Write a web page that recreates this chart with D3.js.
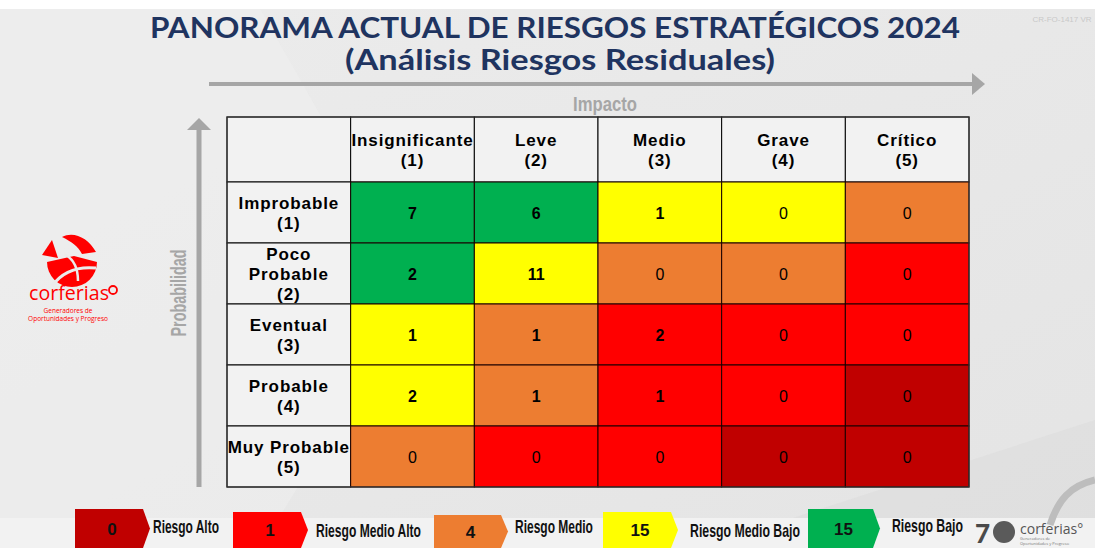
<!DOCTYPE html>
<html>
<head>
<meta charset="utf-8">
<script src="https://cdn.jsdelivr.net/npm/d3@7"></script>
<style>
  html, body { margin: 0; padding: 0; background: #e9e9e9; }
  svg { display: block; }
</style>
</head>
<body>
<div id="chart"></div>
<script>
// Datos del panorama (matriz impacto x probabilidad)
var impactLabels = ["Insignificante", "Leve", "Medio", "Grave", "Crítico"];
var impactCodes = ["(1)", "(2)", "(3)", "(4)", "(5)"];
var probLabels = [["Improbable"], ["Poco", "Probable"], ["Eventual"], ["Probable"], ["Muy Probable"]];
var probCodes = ["(1)", "(2)", "(3)", "(4)", "(5)"];

var riskCounts = [
  [7, 6, 1, 0, 0],
  [2, 11, 0, 0, 0],
  [1, 1, 2, 0, 0],
  [2, 1, 1, 0, 0],
  [0, 0, 0, 0, 0]
];
// nivel de riesgo de cada celda: A=Alto, MA=Medio Alto, M=Medio, MB=Medio Bajo, B=Bajo
var riskLevels = [
  ["B", "B", "MB", "MB", "M"],
  ["B", "MB", "M", "M", "MA"],
  ["MB", "M", "MA", "MA", "MA"],
  ["MB", "M", "MA", "MA", "A"],
  ["M", "MA", "MA", "A", "A"]
];

var legendKeys = ["A", "MA", "M", "MB", "B"];
var legendLabels = ["Riesgo Alto", "Riesgo Medio Alto", "Riesgo Medio", "Riesgo Medio Bajo", "Riesgo Bajo"];
var legendCounts = [0, 1, 4, 15, 15];

var levelColor = d3.scaleOrdinal()
  .domain(["A", "MA", "M", "MB", "B"])
  .range(["#c00000", "#ff0000", "#ed7d31", "#ffff00", "#00b050"]);

var W = 1095, H = 548;
var svg = d3.select("#chart").append("svg").attr("width", W).attr("height", H);

// estrecha un texto horizontalmente hasta el ancho pedido (letra condensada)
function squeeze(sel, px, py, width, rotate) {
  sel.each(function () {
    var natural = this.getComputedTextLength();
    var s = width / natural;
    d3.select(this).attr("transform",
      "translate(" + px + "," + py + ")" + (rotate ? " rotate(" + rotate + ")" : "") + " scale(" + s + ",1)");
  });
}

// fondo
var defs = svg.append("defs");
var bg = defs.append("linearGradient").attr("id", "bg").attr("x1", 0).attr("y1", 0).attr("x2", 1).attr("y2", 1);
bg.append("stop").attr("offset", "0%").attr("stop-color", "#ececec");
bg.append("stop").attr("offset", "100%").attr("stop-color", "#e4e4e4");
svg.append("rect").attr("width", W).attr("height", H).attr("fill", "url(#bg)");
svg.append("path").attr("d", "M0,9 L260,9 L420,290 L260,548 L0,548 Z").attr("fill", "#efefef").attr("opacity", 0.6);
svg.append("path").attr("d", "M700,548 L1095,420 L1095,548 Z").attr("fill", "#dcdcdc").attr("opacity", 0.6);
svg.append("rect").attr("width", W).attr("height", 9).attr("fill", "#ffffff");
svg.append("rect").attr("y", 518).attr("width", W).attr("height", 30).attr("fill", "#f2f2f2");

svg.append("text").attr("x", 1062).attr("y", 22).attr("text-anchor", "middle")
  .attr("font-family", "Liberation Sans, Arial, sans-serif").attr("font-size", 8)
  .attr("fill", "#c8c8c8").text("CR-FO-1417 VR");

// titulo
var title = svg.append("g").attr("font-family", "Lato, 'Open Sans', sans-serif")
  .attr("font-weight", 700).attr("fill", "#1f3460").attr("text-anchor", "middle");
title.append("text").attr("x", 555).attr("y", 38).attr("font-size", 28)
  .attr("textLength", 810).attr("lengthAdjust", "spacingAndGlyphs")
  .text("PANORAMA ACTUAL DE RIESGOS ESTRATÉGICOS 2024");
title.append("text").attr("x", 560).attr("y", 70).attr("font-size", 28)
  .attr("textLength", 430).attr("lengthAdjust", "spacingAndGlyphs")
  .text("(Análisis Riesgos Residuales)");

// tabla
var tableLeft = 227, tableRight = 969, tableTop = 117, headBottom = 182, tableBottom = 487;
var x = d3.scaleBand().domain(d3.range(6)).range([tableLeft, tableRight]);
var y = d3.scaleBand().domain(d3.range(5)).range([headBottom, tableBottom]);

// flechas
var arrowGray = "#a6a6a6";
svg.append("line").attr("x1", 209).attr("x2", 973).attr("y1", 84).attr("y2", 84)
  .attr("stroke", arrowGray).attr("stroke-width", 4);
svg.append("path").attr("d", "M972,73 L985,84 L972,95 Z").attr("fill", arrowGray);
svg.append("line").attr("x1", 199).attr("x2", 199).attr("y1", 129).attr("y2", 487)
  .attr("stroke", arrowGray).attr("stroke-width", 5);
svg.append("path").attr("d", "M187,130 L199,118 L211,130 Z").attr("fill", arrowGray);

var narrow = "'Liberation Sans', Arial, sans-serif";
svg.append("text").attr("text-anchor", "middle")
  .attr("font-family", narrow).attr("font-weight", 700).attr("font-size", 21)
  .attr("fill", arrowGray).text("Impacto")
  .call(squeeze, 605, 111, 64);
svg.append("text").attr("text-anchor", "middle")
  .attr("font-family", narrow).attr("font-weight", 700).attr("font-size", 22)
  .attr("fill", arrowGray).text("Probabilidad")
  .call(squeeze, 186, 293, 87, -90);

var table = svg.append("g").attr("font-family", "Liberation Sans, Arial, sans-serif");

// encabezados
table.append("rect").attr("x", x(0)).attr("y", tableTop)
  .attr("width", x.bandwidth()).attr("height", headBottom - tableTop)
  .attr("fill", "#f2f2f2").attr("stroke", "#000").attr("stroke-width", 1);

var heads = table.selectAll("g.head").data(impactLabels).join("g").attr("class", "head");
heads.append("rect")
  .attr("x", (d, i) => x(i + 1)).attr("y", tableTop)
  .attr("width", x.bandwidth()).attr("height", headBottom - tableTop)
  .attr("fill", "#f2f2f2").attr("stroke", "#000").attr("stroke-width", 1);
heads.append("text")
  .attr("x", (d, i) => x(i + 1) + x.bandwidth() / 2).attr("y", 146)
  .attr("text-anchor", "middle").attr("font-weight", 700).attr("font-size", 17)
  .attr("letter-spacing", 0.9)
  .text(d => d);
heads.append("text")
  .attr("x", (d, i) => x(i + 1) + x.bandwidth() / 2).attr("y", 166)
  .attr("text-anchor", "middle").attr("font-weight", 700).attr("font-size", 17)
  .attr("letter-spacing", 0.9)
  .text((d, i) => impactCodes[i]);

// filas
var rows = table.selectAll("g.row").data(riskCounts).join("g").attr("class", "row");
rows.append("rect")
  .attr("x", x(0)).attr("y", (d, i) => y(i))
  .attr("width", x.bandwidth()).attr("height", y.bandwidth())
  .attr("fill", "#f2f2f2").attr("stroke", "#000").attr("stroke-width", 1);
rows.each(function (d, i) {
  var lines = probLabels[i].concat([probCodes[i]]);
  var lh = 20;
  var cy = y(i) + y.bandwidth() / 2;
  var y0 = cy - (lines.length - 1) * lh / 2 + 6;
  d3.select(this).selectAll("text.lab").data(lines).join("text").attr("class", "lab")
    .attr("x", x(0) + x.bandwidth() / 2)
    .attr("y", (t, j) => y0 + j * lh)
    .attr("text-anchor", "middle").attr("font-weight", 700).attr("font-size", 17)
    .attr("letter-spacing", 0.9)
    .text(t => t);
});

var cells = rows.selectAll("g.cell")
  .data((d, i) => d.map((v, j) => ({ v: v, r: i, c: j })))
  .join("g").attr("class", "cell");
cells.append("rect")
  .attr("x", d => x(d.c + 1)).attr("y", d => y(d.r))
  .attr("width", x.bandwidth()).attr("height", y.bandwidth())
  .attr("fill", d => levelColor(riskLevels[d.r][d.c]))
  .attr("stroke", "#1a0000").attr("stroke-width", 1);
cells.append("text")
  .attr("x", d => x(d.c + 1) + x.bandwidth() / 2)
  .attr("y", d => y(d.r) + y.bandwidth() / 2 + 6)
  .attr("text-anchor", "middle").attr("font-size", 16)
  .attr("font-weight", d => d.v > 0 ? 700 : 400)
  .attr("fill", "#000")
  .text(d => d.v);

table.append("rect").attr("x", tableLeft).attr("y", tableTop)
  .attr("width", tableRight - tableLeft).attr("height", tableBottom - tableTop)
  .attr("fill", "none").attr("stroke", "#333").attr("stroke-width", 1.2);

// leyenda
var legendX = d3.scaleOrdinal().domain(legendKeys).range([75, 233, 434, 603, 808]);
var legendW = d3.scaleOrdinal().domain(legendKeys).range([68, 68, 67, 68, 65]);
var legendTop = d3.scaleOrdinal().domain(legendKeys).range([509, 512, 515, 512, 509]);
var legendTextX = d3.scaleOrdinal().domain(legendKeys).range([153, 316, 515, 690, 892]);
var legendTextY = d3.scaleOrdinal().domain(legendKeys).range([533, 537, 533, 537, 532]);
var legendTextW = d3.scaleOrdinal().domain(legendKeys).range([66, 105, 78, 110, 71]);

var leg = svg.append("g").attr("font-family", narrow).attr("font-weight", 700);
var items = leg.selectAll("g").data(legendKeys).join("g");
items.append("path")
  .attr("d", k => {
    var x0 = legendX(k), w = legendW(k), t = legendTop(k), b = 548, m = (t + b) / 2;
    return "M" + x0 + "," + t + " L" + (x0 + w) + "," + t + " L" + (x0 + w + 7) + "," + m +
      " L" + (x0 + w) + "," + b + " L" + x0 + "," + b + " Z";
  })
  .attr("fill", k => levelColor(k));
items.append("text")
  .attr("x", k => legendX(k) + legendW(k) / 2 + 3)
  .attr("y", k => (legendTop(k) + 548) / 2 + 6)
  .attr("text-anchor", "middle").attr("font-size", 17).attr("fill", "#111")
  .text((k, i) => legendCounts[i]);
items.append("text")
  .attr("font-size", 18).attr("fill", "#111")
  .text((k, i) => legendLabels[i])
  .each(function (k) {
    d3.select(this).call(squeeze, legendTextX(k), legendTextY(k), legendTextW(k));
  });

// logo corferias (izquierda)
var logo = svg.append("g").attr("fill", "#ff0000");
logo.append("path").attr("d", "M47,262 A25,25 0 1 0 97,262 L74,256 Z");
logo.append("path").attr("d", "M42,255 L52,240 L58,258 Z");
logo.append("path").attr("d", "M62,237 C74,231 88,238 96,252 L82,254 C78,246 72,242 62,237 Z");
logo.append("path").attr("d", "M52,286 C62,272 76,266 96,268").attr("fill", "none")
  .attr("stroke", "#ebebeb").attr("stroke-width", 3);
logo.append("path").attr("d", "M64,254 C72,258 78,266 78,281").attr("fill", "none")
  .attr("stroke", "#ebebeb").attr("stroke-width", 2.5);
logo.append("text").attr("font-family", "'Open Sans', sans-serif")
  .attr("font-size", 20).text("corferias")
  .call(squeeze, 29, 300, 80);
logo.append("circle").attr("cx", 113).attr("cy", 290).attr("r", 4).attr("fill", "none")
  .attr("stroke", "#ff0000").attr("stroke-width", 1.8);
logo.append("text").attr("x", 68).attr("y", 313).attr("text-anchor", "middle")
  .attr("font-family", "'Open Sans', sans-serif").attr("font-size", 6.5).text("Generadores de");
logo.append("text").attr("x", 68).attr("y", 321).attr("text-anchor", "middle")
  .attr("font-family", "'Open Sans', sans-serif").attr("font-size", 6.5).text("Oportunidades y Progreso");

// logo 70 años (derecha)
var logo70 = svg.append("g").attr("fill", "#555");
logo70.append("path").attr("d", "M1050,525 C1058,500 1070,486 1095,480").attr("fill", "none")
  .attr("stroke", "#bdbdbd").attr("stroke-width", 7);
logo70.append("text").attr("x", 975).attr("y", 543).attr("font-family", "Lato, sans-serif")
  .attr("font-weight", 900).attr("font-size", 26).attr("fill", "#4a4a4a").text("7");
logo70.append("circle").attr("cx", 1004).attr("cy", 532).attr("r", 11).attr("fill", "#5a5a5a");
logo70.append("text").attr("x", 1020).attr("y", 534).attr("font-family", "'Open Sans', sans-serif")
  .attr("font-size", 14).attr("fill", "#555").text("corferias°");
logo70.append("text").attr("x", 1020).attr("y", 540).attr("font-family", "'Open Sans', sans-serif")
  .attr("font-size", 4).attr("fill", "#777").text("Generadores de");
logo70.append("text").attr("x", 1020).attr("y", 545).attr("font-family", "'Open Sans', sans-serif")
  .attr("font-size", 4).attr("fill", "#777").text("Oportunidades y Progreso");
</script>
</body>
</html>
